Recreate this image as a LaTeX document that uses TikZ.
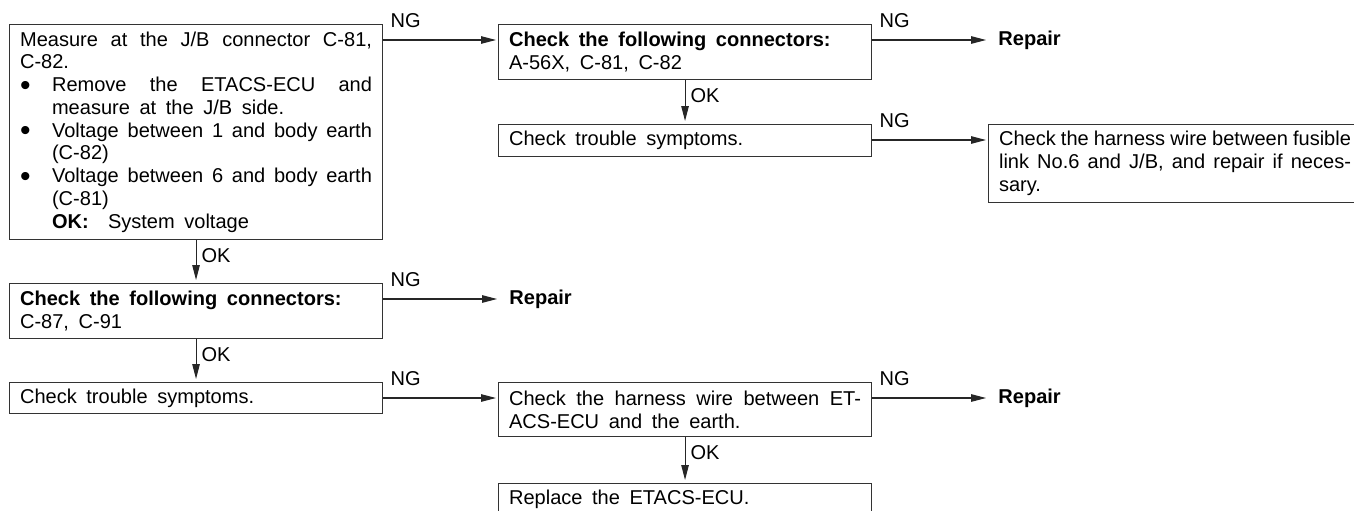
\documentclass[tikz,border=0pt]{standalone}
\usepackage{fontspec}
\setmainfont{Liberation Sans}
\usepackage{tikz}
\usetikzlibrary{arrows.meta,calc,positioning}
\setlength{\parindent}{0pt}
\hyphenpenalty=10000
\newcommand{\widesp}{\spaceskip=0.48em plus 0.5em minus 0.28em\relax}
\newcommand{\bitem}[1]{\par\noindent\hangindent=0.64cm\hangafter=1\makebox[0.64cm][l]{\smash{\raisebox{-0.17em}{\scalebox{1.5}{\textbullet}}}}#1}

\begin{document}
\begin{tikzpicture}[
    x=0.02cm, y=-0.02cm,
    font=\fontsize{11.4}{12.95}\selectfont,
    box/.style={
        draw=black!80,
        line width=0.65pt,
        anchor=north west,
        minimum width=7.46cm,
        text width=7.04cm,
        inner xsep=0.21cm,
        align=justify,
        execute at begin node=\widesp
    },
    fix/.style={anchor=west, inner xsep=0.24cm, font=\fontsize{11.4}{12.95}\selectfont\bfseries},
    ng/.style={anchor=south west, inner xsep=0.14cm, inner ysep=0.24cm, text=black},
    ok/.style={anchor=north west, inner xsep=0.1cm, inner ysep=0.15cm, text=black},
    arr/.style={-{Triangle[length=0.3cm,width=0.15cm]}, line width=0.6pt, black!85}
]
    \useasboundingbox (0,0) rectangle (1354,510);
    \clip (0,0) rectangle (1354,510);

    %% Left column
    \node[box, minimum height=4.3cm] (meas) at (9,24) {Measure at the J/B connector C-81,\linebreak C-82.
        \bitem{Remove the ETACS-ECU and\linebreak measure at the J/B side.}
        \bitem{Voltage between 1 and body earth (C-82)}
        \bitem{Voltage between 6 and body earth (C-81)}
        \par\hangindent=0.64cm\hspace*{0.64cm}\textbf{OK:}\ \ System voltage};
    \node[box, minimum height=1.1cm] (connB) at (9,283) {\textbf{Check the following connectors:}\newline C-87, C-91};
    \node[box, minimum height=0.62cm] (symB) at (9,382) {Check trouble symptoms.};

    %% Middle column
    \node[box, minimum height=1.1cm] (connA) at (498,24) {\textbf{Check the following connectors:}\newline A-56X, C-81, C-82};
    \node[box, minimum height=0.64cm] (symA) at (498,124) {Check trouble symptoms.};
    \node[box, minimum height=1.08cm] (harnB) at (498,382) {Check the harness wire between ET-\linebreak ACS-ECU and the earth.};
    \node[box, minimum height=0.64cm] (swap) at (498,483) {Replace the ETACS-ECU.};

    %% Right column
    \node[box, minimum height=1.56cm] (harnA) at (988,124) {Check the harness wire between fusible\linebreak link No.6 and J/B, and repair if neces-\linebreak sary.};

    %% Repair
    \node[fix] (fixA) at ($(connA.north east)+(114,16)$) {Repair};
    \node[fix] (fixB) at ($(connB.north east)+(114,16)$) {Repair};
    \node[fix] (fixC) at ($(harnB.north east)+(114,16)$) {Repair};

    %% NG arrows
    \draw[arr] ($(meas.north east)+(0,16)$) -- node[ng, pos=0] {NG} ($(connA.north west)+(-2,16)$);
    \draw[arr] ($(connA.north east)+(0,16)$) -- node[ng, pos=0] {NG} (fixA.west);
    \draw[arr] ($(symA.north east)+(0,16)$) -- node[ng, pos=0] {NG} ($(harnA.north west)+(-2,16)$);
    \draw[arr] ($(connB.north east)+(0,16)$) -- node[ng, pos=0] {NG} (fixB.west);
    \draw[arr] ($(symB.north east)+(0,16)$) -- node[ng, pos=0] {NG} ($(harnB.north west)+(-2,16)$);
    \draw[arr] ($(harnB.north east)+(0,16)$) -- node[ng, pos=0] {NG} (fixC.west);

    %% OK arrows
    \draw[arr] (meas.south) -- node[ok, pos=0] {OK} ($(connB.north)+(0,-3)$);
    \draw[arr] (connB.south) -- node[ok, pos=0] {OK} ($(symB.north)+(0,-3)$);
    \draw[arr] (connA.south) -- node[ok, pos=0] {OK} ($(symA.north)+(0,-3)$);
    \draw[arr] (harnB.south) -- node[ok, pos=0] {OK} ($(swap.north)+(0,-3)$);
\end{tikzpicture}
\end{document}
